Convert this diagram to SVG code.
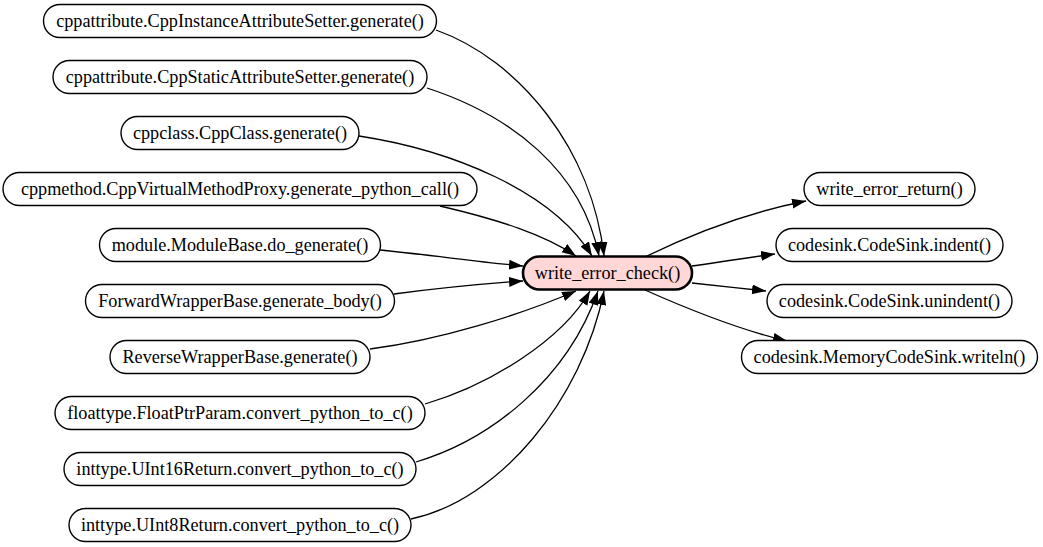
<svg xmlns="http://www.w3.org/2000/svg" width="1043" height="547" viewBox="0 0 1043 547">
  <style>
    .node rect { fill: #ffffff; stroke: #000000; stroke-width: 1.4; }
    .node text { font-family: "Liberation Serif", "Times New Roman", serif; font-size: 18.2px; fill: #000000; text-anchor: middle; }
    #n_center rect { fill: #ffd7d7; stroke-width: 2.6; }
    .edge { fill: none; stroke: #000000; stroke-width: 1.3; marker-end: url(#arrow); }
  </style>
  <defs>
    <marker id="arrow" markerUnits="userSpaceOnUse" markerWidth="15" markerHeight="11" refX="14" refY="5" orient="auto">
      <path d="M0,0 L14,5 L0,10 z" fill="#000000"/>
    </marker>
  </defs>
  <rect x="0" y="0" width="1043" height="547" fill="#ffffff"/>

  <!-- connectors -->
  <g id="edges">
    <path class="edge" d="M436,30 C520,60 592,150 604,256"/>
    <path class="edge" d="M427,88 C510,115 582,170 599,256"/>
    <path class="edge" d="M359,136 C450,150 552,190 592,256"/>
    <path class="edge" d="M440,206 C500,220 545,235 576,256"/>
    <path class="edge" d="M380,250 C430,255 480,262 523,266"/>
    <path class="edge" d="M394,294 C440,288 480,284 523,281"/>
    <path class="edge" d="M370,349 C440,340 520,315 576,291"/>
    <path class="edge" d="M425,404 C490,385 562,340 590,291"/>
    <path class="edge" d="M416,462 C490,440 567,380 598,291"/>
    <path class="edge" d="M411,519 C500,500 582,400 604,291"/>
    <path class="edge" d="M645,257 C700,230 750,212 806,201"/>
    <path class="edge" d="M692,266 C720,262 745,258 775,254"/>
    <path class="edge" d="M692,283 C720,286 740,288 766,291"/>
    <path class="edge" d="M645,290 C690,310 740,330 787,341"/>
  </g>

  <!-- callers -->
  <g id="n1" class="node"><rect x="43.5" y="4.5" width="393" height="33" rx="16.5"/><text x="240" y="27">cppattribute.CppInstanceAttributeSetter.generate()</text></g>
  <g id="n2" class="node"><rect x="53" y="60.5" width="374" height="33" rx="16.5"/><text x="240" y="83">cppattribute.CppStaticAttributeSetter.generate()</text></g>
  <g id="n3" class="node"><rect x="121" y="116.5" width="238" height="33" rx="16.5"/><text x="240" y="139">cppclass.CppClass.generate()</text></g>
  <g id="n4" class="node"><rect x="3" y="172.5" width="474" height="33" rx="16.5"/><text x="240" y="195">cppmethod.CppVirtualMethodProxy.generate_python_call()</text></g>
  <g id="n5" class="node"><rect x="99.5" y="228.5" width="281" height="33" rx="16.5"/><text x="240" y="251">module.ModuleBase.do_generate()</text></g>
  <g id="n6" class="node"><rect x="85.5" y="284.5" width="309" height="33" rx="16.5"/><text x="240" y="307">ForwardWrapperBase.generate_body()</text></g>
  <g id="n7" class="node"><rect x="110" y="340.5" width="260" height="33" rx="16.5"/><text x="240" y="363">ReverseWrapperBase.generate()</text></g>
  <g id="n8" class="node"><rect x="55" y="396.5" width="370" height="33" rx="16.5"/><text x="240" y="419">floattype.FloatPtrParam.convert_python_to_c()</text></g>
  <g id="n9" class="node"><rect x="64" y="452.5" width="352" height="33" rx="16.5"/><text x="240" y="475">inttype.UInt16Return.convert_python_to_c()</text></g>
  <g id="n10" class="node"><rect x="69" y="508.5" width="342" height="33" rx="16.5"/><text x="240" y="531">inttype.UInt8Return.convert_python_to_c()</text></g>

  <!-- focus function -->
  <g id="n_center" class="node"><rect x="523" y="256.5" width="169" height="33" rx="16.5"/><text x="607.5" y="279">write_error_check()</text></g>

  <!-- callees -->
  <g id="r1" class="node"><rect x="804" y="172.5" width="171" height="33" rx="16.5"/><text x="889.5" y="195">write_error_return()</text></g>
  <g id="r2" class="node"><rect x="776" y="228.5" width="227" height="33" rx="16.5"/><text x="889.5" y="251">codesink.CodeSink.indent()</text></g>
  <g id="r3" class="node"><rect x="767" y="284.5" width="245" height="33" rx="16.5"/><text x="889.5" y="307">codesink.CodeSink.unindent()</text></g>
  <g id="r4" class="node"><rect x="741.5" y="340.5" width="296" height="33" rx="16.5"/><text x="889.5" y="363">codesink.MemoryCodeSink.writeln()</text></g>
</svg>
